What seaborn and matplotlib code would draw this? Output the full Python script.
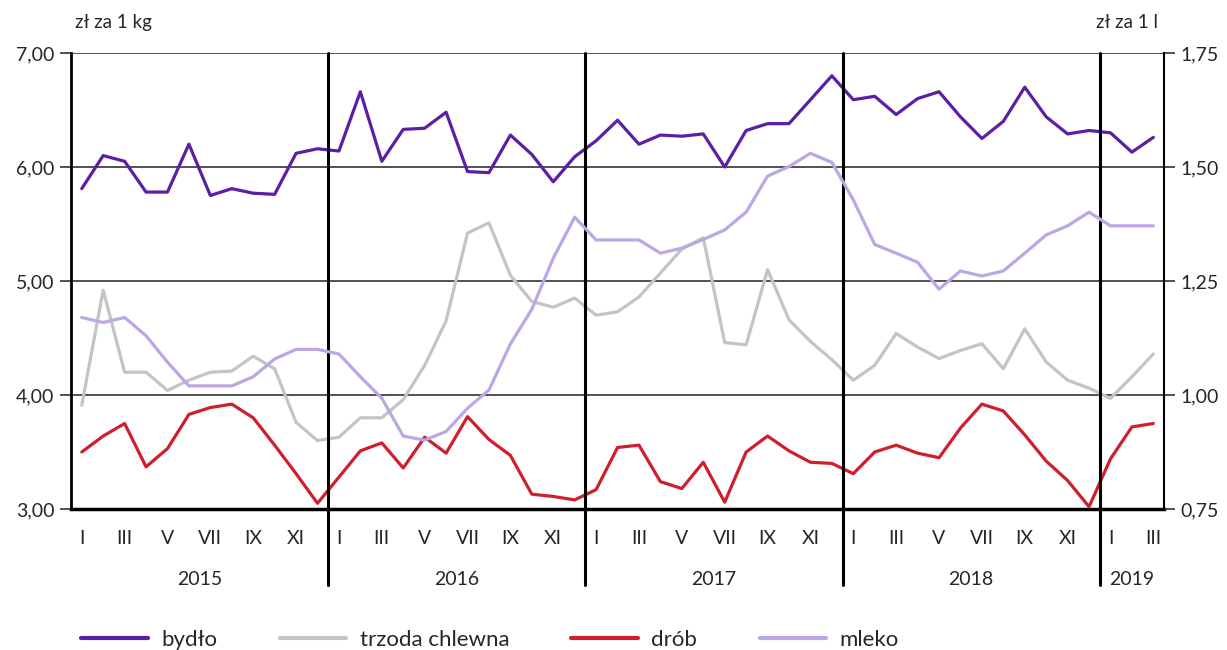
import matplotlib
matplotlib.use("Agg")
import matplotlib.pyplot as plt
import matplotlib.transforms as mtransforms
from matplotlib.ticker import FuncFormatter
from matplotlib.lines import Line2D
import seaborn as sns
import pandas as pd

# miesiące I 2015 - III 2019
years = ["2015", "2016", "2017", "2018", "2019"]
months_per_year = [12, 12, 12, 12, 3]
roman = ["I", "II", "III", "IV", "V", "VI", "VII", "VIII", "IX", "X", "XI", "XII"]

bydlo = [5.81, 6.10, 6.05, 5.78, 5.78, 6.20, 5.75, 5.81, 5.77, 5.76, 6.12, 6.16,
         6.14, 6.66, 6.05, 6.33, 6.34, 6.48, 5.96, 5.95, 6.28, 6.11, 5.87, 6.09,
         6.23, 6.41, 6.20, 6.28, 6.27, 6.29, 6.00, 6.32, 6.38, 6.38, 6.59, 6.80,
         6.59, 6.62, 6.46, 6.60, 6.66, 6.44, 6.25, 6.40, 6.70, 6.44, 6.29, 6.32,
         6.30, 6.13, 6.26]
trzoda = [3.91, 4.92, 4.20, 4.20, 4.04, 4.13, 4.20, 4.21, 4.34, 4.23, 3.76, 3.60,
          3.63, 3.80, 3.80, 3.96, 4.26, 4.65, 5.42, 5.51, 5.05, 4.82, 4.77, 4.85,
          4.70, 4.73, 4.86, 5.07, 5.28, 5.38, 4.46, 4.44, 5.10, 4.66, 4.47, 4.31,
          4.13, 4.26, 4.54, 4.42, 4.32, 4.39, 4.45, 4.23, 4.58, 4.29, 4.13, 4.06,
          3.97, 4.16, 4.36]
drob = [3.50, 3.64, 3.75, 3.37, 3.53, 3.83, 3.89, 3.92, 3.80, 3.56, 3.31, 3.05,
        3.28, 3.51, 3.58, 3.36, 3.63, 3.49, 3.81, 3.61, 3.47, 3.13, 3.11, 3.08,
        3.17, 3.54, 3.56, 3.24, 3.18, 3.41, 3.06, 3.50, 3.64, 3.51, 3.41, 3.40,
        3.31, 3.50, 3.56, 3.49, 3.45, 3.71, 3.92, 3.86, 3.65, 3.42, 3.25, 3.02,
        3.44, 3.72, 3.75]
mleko = [1.170, 1.159, 1.170, 1.130, 1.072, 1.020, 1.020, 1.020, 1.040, 1.079, 1.100, 1.100,
         1.090, 1.040, 0.993, 0.910, 0.901, 0.920, 0.971, 1.011, 1.112, 1.188, 1.300, 1.390,
         1.340, 1.340, 1.340, 1.311, 1.322, 1.341, 1.362, 1.401, 1.480, 1.501, 1.530, 1.510,
         1.428, 1.330, 1.311, 1.291, 1.232, 1.272, 1.261, 1.272, 1.311, 1.351, 1.371, 1.401,
         1.371, 1.371, 1.371]

series_names = ["bydło", "trzoda chlewna", "drób", "mleko"]
colors = ["#5b1fa6", "#c4c4c4", "#d01f2c", "#bca6e6"]

n = len(bydlo)
idx = list(range(n))
df_left = pd.DataFrame({"m": idx * 3,
                        "cena": bydlo + trzoda + drob,
                        "seria": ["bydło"] * n + ["trzoda chlewna"] * n + ["drób"] * n})
df_mleko = pd.DataFrame({"m": idx, "cena": mleko})

sns.set_style("white")
plt.rcParams["font.family"] = ["Lato", "DejaVu Sans"]

fig = plt.figure(figsize=(12.27, 6.5), dpi=100)
ax = fig.add_axes([0.0579, 0.2169, 0.8908, 0.7016])
ax2 = ax.twinx()

lw = 2.3
sns.lineplot(data=df_left, x="m", y="cena", hue="seria", hue_order=series_names[:3],
             palette=colors[:3], linewidth=lw, ax=ax, legend=False, zorder=3)
sns.lineplot(data=df_mleko, x="m", y="cena", color=colors[3], linewidth=lw, ax=ax2,
             legend=False)

ax.set_xlim(-0.5, n - 0.5)
ax.set_ylim(3, 7)
ax2.set_ylim(0.75, 1.75)
ax.set_yticks([3, 4, 5, 6, 7])
ax2.set_yticks([0.75, 1.0, 1.25, 1.5, 1.75])
comma = FuncFormatter(lambda v, p: f"{v:.2f}".replace(".", ","))
ax.yaxis.set_major_formatter(comma)
ax2.yaxis.set_major_formatter(comma)

# siatka
for v in [4, 5, 6, 7]:
    ax.axhline(v, color="#333333", linewidth=1.2, zorder=1)

# miesiące nieparzyste
pos, labs = [], []
k = 0
for y, cnt in zip(years, months_per_year):
    for m in range(cnt):
        if m % 2 == 0:
            pos.append(k)
            labs.append(roman[m])
        k += 1
ax.set_xticks(pos)
ax.set_xticklabels(labs)
ax.tick_params(axis="x", length=0, pad=15, labelsize=14)
ax.tick_params(axis="y", length=8, width=1.2, color="#333333", labelsize=14, pad=4)
ax2.tick_params(axis="y", length=8, width=1.2, color="#333333", labelsize=14, pad=4)
ax.set_xlabel("")
ax.set_ylabel("")
ax2.set_ylabel("")

# lata
trans = mtransforms.blended_transform_factory(ax.transData, ax.transAxes)
start = 0
for y, cnt in zip(years, months_per_year):
    ax.text(start + cnt / 2 - 0.5, -0.155, y, transform=trans, ha="center", va="center",
            fontsize=14)
    start += cnt
    if start < n:
        ax.plot([start - 0.5, start - 0.5], [1.0, -0.167], transform=trans, color="black",
                linewidth=2.2, clip_on=False, zorder=4)

for a in (ax, ax2):
    for s in ["left", "right", "top", "bottom"]:
        a.spines[s].set_visible(False)
ax.spines["left"].set_visible(True)
ax.spines["left"].set_linewidth(2)
ax.spines["left"].set_color("black")
ax.spines["bottom"].set_visible(True)
ax.spines["bottom"].set_linewidth(2.5)
ax.spines["bottom"].set_color("black")
ax2.spines["right"].set_visible(True)
ax2.spines["right"].set_linewidth(1.5)
ax2.spines["right"].set_color("black")

fig.text(0.061, 0.965, "zł za 1 kg", ha="left", va="center", fontsize=13.5)
fig.text(0.944, 0.965, "zł za 1 l", ha="right", va="center", fontsize=13.5)

handles = [Line2D([], [], color=c, linewidth=3) for c in colors]
fig.legend(handles, series_names, loc="center left", bbox_to_anchor=(0.050, 0.015),
           ncol=4, frameon=False, fontsize=16, handlelength=3.0, handletextpad=0.6,
           columnspacing=2.8)

fig.savefig("out.png", dpi=100)
